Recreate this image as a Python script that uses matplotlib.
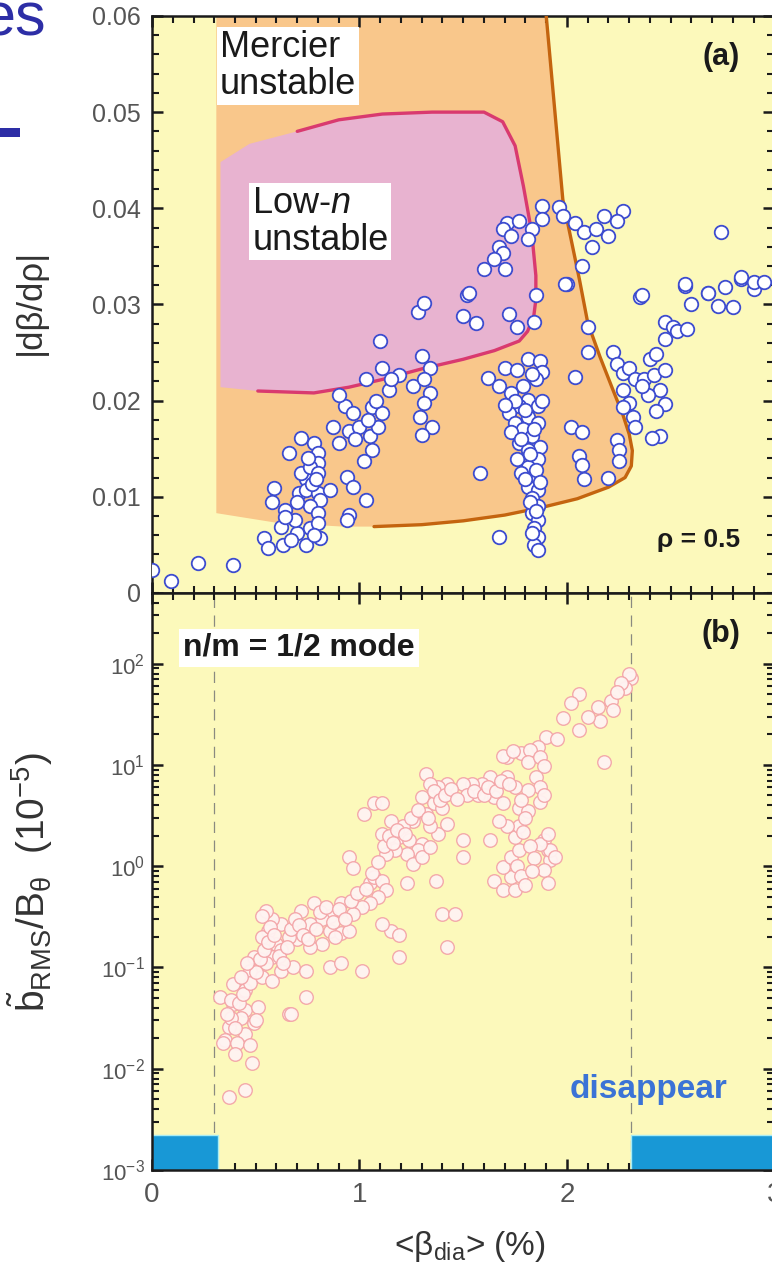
import matplotlib
matplotlib.use("Agg")
import matplotlib.pyplot as plt
from matplotlib.patches import Polygon, Rectangle
from matplotlib.ticker import MultipleLocator, LogLocator, NullFormatter, FixedLocator, FixedFormatter

plt.rcParams['font.family'] = ['Liberation Sans', 'DejaVu Sans']
plt.rcParams['mathtext.fontset'] = 'custom'
plt.rcParams['mathtext.rm'] = 'Liberation Sans'
plt.rcParams['mathtext.it'] = 'Liberation Sans:italic'
plt.rcParams['mathtext.bf'] = 'Liberation Sans:bold'

# ---------------- panel (a): stability boundaries at rho = 0.5 ----------------
mercier_beta = [1.90, 1.98, 2.06, 2.10, 2.16, 2.22, 2.27, 2.30, 2.315, 2.31, 2.28, 2.20,
                2.05, 1.88, 1.70, 1.50, 1.30, 1.07]
mercier_grad = [0.060, 0.0409, 0.0326, 0.0281, 0.0245, 0.0212, 0.0185, 0.0165, 0.0148,
                0.0132, 0.0120, 0.0110, 0.0098, 0.0089, 0.0081, 0.0075, 0.0071, 0.0069]
mercier_left_beta = 0.31
mercier_floor_beta = [0.92, 0.60, 0.31]
mercier_floor_grad = [0.0069, 0.0073, 0.0083]

lown_beta = [0.70, 0.90, 1.11, 1.35, 1.60, 1.69, 1.75, 1.79, 1.83, 1.85, 1.85, 1.84,
             1.81, 1.77, 1.65, 1.50, 1.30, 1.11, 0.95, 0.78, 0.51]
lown_grad = [0.0480, 0.0492, 0.0498, 0.0500, 0.0500, 0.0490, 0.0465, 0.0423, 0.0375,
             0.0330, 0.0305, 0.0288, 0.0272, 0.0262, 0.0252, 0.0243, 0.0233, 0.0222,
             0.0214, 0.0208, 0.0210]
lown_open_beta = [0.33, 0.33, 0.47]
lown_open_grad = [0.0214, 0.0448, 0.0467]

# measured pressure gradient vs. beta
a_beta = [
    0.00, 0.09, 0.22, 0.39,
    0.54, 0.56, 0.63, 0.74, 0.81, 0.62, 0.70, 0.76, 0.59, 0.58, 0.64, 0.71, 0.74, 0.72,
    0.66, 0.72, 0.78, 0.80, 0.80, 0.76, 0.80, 0.74, 0.80, 0.81, 0.76, 0.80, 0.80, 0.86,
    0.69, 0.64, 0.77, 0.79, 0.75, 0.70, 0.78, 0.67,
    0.87, 0.90, 0.93, 0.95, 0.90, 0.97, 1.00, 1.03, 1.06, 1.05, 1.06, 1.02, 1.09, 1.11,
    0.94, 0.97, 1.03, 0.95, 0.94, 1.10, 1.11, 1.14, 1.19, 1.15, 1.04, 0.98, 1.08,
    1.30, 1.34, 1.26, 1.31, 1.34, 1.31, 1.29, 1.35, 1.30, 1.28, 1.31, 1.52, 1.53, 1.50, 1.56,
    1.62, 1.67, 1.70, 1.81, 1.87, 1.88, 1.85, 1.79, 1.73, 1.81, 1.77, 1.86, 1.72, 1.81,
    1.75, 1.86, 1.79, 1.73, 1.83, 1.77, 1.87, 1.81, 1.76, 1.86, 1.81, 1.78, 1.84, 1.81,
    1.86, 1.83, 1.86, 1.83, 1.86, 1.84, 1.86, 1.84, 1.67, 1.58, 1.72, 1.76, 1.84, 1.85,
    2.00, 2.04, 2.10, 2.10, 2.02, 2.07, 2.06, 2.07, 2.08, 2.20, 2.24, 2.25, 2.25,
    1.80, 1.84, 1.78, 1.82, 1.85, 1.80, 1.87, 1.82, 1.85, 1.83, 1.86, 1.75, 1.70, 1.88,
    1.83, 1.76,
    2.22, 2.24, 2.27, 2.30, 2.33, 2.27, 2.30, 2.27, 2.32, 2.33, 2.37, 2.40, 2.43, 2.42,
    2.47, 2.45, 2.47, 2.43, 2.39, 2.36, 2.45, 2.41, 2.47, 2.51, 2.53, 2.58, 2.47, 2.35,
    2.57, 2.60, 2.68, 2.73, 2.80, 2.76, 2.84, 2.90,
    1.88, 1.96, 1.98, 2.04, 2.08, 2.12, 2.18, 2.27, 2.24, 2.14, 2.20, 1.88, 1.83, 1.71,
    1.77, 1.69, 1.73, 1.81, 1.67, 1.69, 1.65, 1.70, 1.60, 2.07, 1.99, 2.36, 2.74, 2.57,
    2.68, 2.84, 2.90, 2.95,
]
a_grad = [
    0.0024, 0.0012, 0.0031, 0.0029,
    0.0057, 0.0047, 0.0050, 0.0050, 0.0057, 0.0069, 0.0062, 0.0068, 0.0109, 0.0095, 0.0086,
    0.0104, 0.0118, 0.0125, 0.0146, 0.0161, 0.0156, 0.0146, 0.0135, 0.0131, 0.0125, 0.0107,
    0.0104, 0.0097, 0.0090, 0.0083, 0.0073, 0.0107, 0.0076, 0.0079, 0.0113, 0.0118, 0.0140,
    0.0095, 0.0060, 0.0055,
    0.0173, 0.0156, 0.0194, 0.0168, 0.0206, 0.0187, 0.0173, 0.0222, 0.0193, 0.0163, 0.0149,
    0.0137, 0.0173, 0.0187, 0.0121, 0.0110, 0.0097, 0.0081, 0.0076, 0.0262, 0.0234, 0.0211,
    0.0227, 0.0222, 0.0180, 0.0160, 0.0200,
    0.0246, 0.0234, 0.0215, 0.0222, 0.0208, 0.0198, 0.0183, 0.0173, 0.0164, 0.0292, 0.0302,
    0.0310, 0.0312, 0.0288, 0.0281,
    0.0224, 0.0215, 0.0234, 0.0243, 0.0241, 0.0230, 0.0222, 0.0215, 0.0208, 0.0201, 0.0194,
    0.0194, 0.0187, 0.0183, 0.0177, 0.0177, 0.0170, 0.0167, 0.0163, 0.0156, 0.0152, 0.0149,
    0.0139, 0.0139, 0.0131, 0.0125, 0.0121, 0.0110, 0.0107, 0.0099, 0.0090, 0.0083, 0.0076,
    0.0068, 0.0058, 0.0050, 0.0058, 0.0125, 0.0290, 0.0277, 0.0282, 0.0310,
    0.0321, 0.0225, 0.0277, 0.0251, 0.0173, 0.0167, 0.0142, 0.0133, 0.0118, 0.0120, 0.0159,
    0.0149, 0.0137,
    0.0190, 0.0170, 0.0160, 0.0145, 0.0128, 0.0118, 0.0115, 0.0095, 0.0085, 0.0062, 0.0045,
    0.0200, 0.0195, 0.0200, 0.0228, 0.0232,
    0.0251, 0.0238, 0.0229, 0.0234, 0.0222, 0.0211, 0.0198, 0.0193, 0.0183, 0.0173, 0.0222,
    0.0243, 0.0248, 0.0227, 0.0232, 0.0211, 0.0196, 0.0189, 0.0206, 0.0215, 0.0163, 0.0161,
    0.0282, 0.0277, 0.0272, 0.0274, 0.0264, 0.0308, 0.0319, 0.0300, 0.0312, 0.0298, 0.0297,
    0.0318, 0.0326, 0.0316,
    0.0402, 0.0401, 0.0392, 0.0385, 0.0375, 0.0360, 0.0392, 0.0397, 0.0387, 0.0378, 0.0371,
    0.0389, 0.0378, 0.0385, 0.0387, 0.0378, 0.0371, 0.0368, 0.0360, 0.0354, 0.0347, 0.0337,
    0.0337, 0.0340, 0.0321, 0.0310, 0.0375, 0.0321, 0.0312, 0.0329, 0.0323, 0.0323,
]

# ---------------- panel (b): n/m = 1/2 mode amplitude ----------------
b_beta = [
    2.31, 2.28, 2.21, 2.15, 2.22, 2.16, 2.06, 2.02, 1.98, 2.06, 1.90, 1.86, 1.78, 1.82,
    1.71, 2.30, 2.26, 2.18, 2.10, 1.95, 2.24,
    1.69, 1.74, 1.81, 1.87, 1.89, 1.85, 1.87, 1.81, 1.75, 1.71, 1.63, 1.59, 1.54, 1.57,
    1.65, 1.69, 1.77, 1.81, 1.87, 1.89, 1.50, 1.52, 1.42, 1.38, 1.32, 1.34, 1.30, 1.36,
    1.40, 1.32, 1.26, 1.21, 1.15, 1.11, 1.19, 1.24, 1.30, 1.28, 1.23, 1.17, 1.13, 1.26,
    1.30, 1.34, 1.38, 1.34, 1.42, 1.07, 1.11, 1.02, 0.95, 0.97, 1.05, 1.07, 1.11, 1.13,
    1.09, 1.05, 1.01, 0.97, 0.91, 0.89, 0.86, 0.82, 0.78, 0.72, 0.76, 0.86, 0.91, 0.95,
    0.88, 0.82, 0.76, 0.70, 0.66, 0.62, 0.58, 0.55, 0.53, 0.56, 0.53, 0.60, 0.62, 0.58,
    0.55, 0.49, 0.47, 0.53, 0.58, 0.62, 0.68, 0.74, 0.86, 0.91, 1.01, 1.19, 1.15, 1.19,
    1.11, 0.74, 0.66, 0.45, 0.39, 0.33, 0.39, 0.45, 0.51, 0.49, 0.43, 0.37, 0.45, 0.35,
    0.41, 0.47, 1.40, 1.46, 1.42, 1.23, 1.37, 1.50, 1.50, 1.63, 1.65, 1.69, 1.75, 1.73,
    1.69, 1.73, 1.77, 1.75, 1.77, 1.71, 1.67, 1.89, 1.91, 1.92, 1.89, 1.91, 1.92, 1.87,
    1.94, 1.91,
    0.38, 0.38, 0.34, 0.40, 0.48, 0.45, 0.37, 0.67, 0.50,
    0.42, 0.44, 0.47, 0.50, 0.52, 0.54, 0.56, 0.57, 0.59, 0.61, 0.63, 0.65, 0.67, 0.69,
    0.71, 0.73, 0.75, 0.79, 0.81, 0.84, 0.87, 0.90, 0.93, 0.96, 0.99, 1.03, 1.06, 1.09,
    1.12, 1.14, 1.16, 1.18, 1.22, 1.25, 1.28, 1.33, 1.36, 1.39, 1.41, 1.44, 1.47, 1.55,
    1.60, 1.62, 1.66, 1.68, 1.72, 1.78, 1.80, 1.79, 1.82, 1.84, 1.76, 1.78, 1.80, 1.83,
    0.40, 0.36, 0.43, 0.46,
]
b_amp = [
    73, 58, 43, 37, 35, 27, 50, 41, 29, 22, 19, 15, 13, 14,
    12, 80, 65, 10.7, 30, 18, 52,
    12.3, 13.8, 10.7, 12, 9.8, 7.6, 6.0, 5.6, 6.0, 7.6, 7.6, 6.5, 6.5, 5.1,
    4.8, 4.2, 3.8, 3.5, 4.3, 5.1, 6.5, 5.1, 6.5, 6.0, 8.1, 6.5, 4.8, 4.2,
    3.8, 3.3, 2.8, 2.5, 2.8, 2.1, 1.95, 1.8, 1.66, 1.45, 1.32, 1.45, 1.32, 1.05,
    1.23, 1.55, 2.1, 2.5, 2.6, 4.2, 4.2, 3.3, 1.23, 0.95, 0.68, 0.78, 0.72, 0.58,
    0.50, 0.43, 0.40, 0.34, 0.43, 0.36, 0.32, 0.30, 0.43, 0.36, 0.27, 0.23, 0.22, 0.23,
    0.20, 0.17, 0.16, 0.19, 0.20, 0.27, 0.30, 0.36, 0.32, 0.23, 0.20, 0.17, 0.15, 0.126,
    0.11, 0.126, 0.093, 0.081, 0.074, 0.093, 0.10, 0.093, 0.10, 0.11, 0.093, 0.126, 0.23, 0.21,
    0.27, 0.051, 0.035, 0.060, 0.069, 0.051, 0.044, 0.038, 0.041, 0.028, 0.032, 0.026, 0.022, 0.019,
    0.018, 0.017, 0.34, 0.34, 0.16, 0.68, 0.72, 1.8, 1.23, 1.8, 0.72, 0.58, 0.58, 0.78,
    0.98, 1.23, 1.45, 1.95, 2.5, 2.5, 2.8, 1.8, 1.45, 1.15, 0.91, 0.68, 1.45, 1.66,
    1.23, 2.1,
    0.048, 0.032, 0.018, 0.014, 0.0114, 0.0062, 0.0052, 0.035, 0.030,
    0.045, 0.055, 0.07, 0.09, 0.12, 0.15, 0.18, 0.25, 0.21, 0.13, 0.11, 0.16, 0.24, 0.30,
    0.26, 0.21, 0.19, 0.24, 0.35, 0.40, 0.28, 0.38, 0.30, 0.45, 0.55, 0.60, 0.85, 1.1,
    1.6, 2.0, 1.7, 2.3, 2.1, 3.0, 3.6, 3.0, 5.5, 4.5, 5.0, 5.8, 4.6, 5.5,
    5.0, 6.0, 5.5, 7.0, 6.5, 4.5, 3.0, 2.2, 1.6, 1.2, 1.0, 0.8, 0.65, 0.9,
    0.025, 0.035, 0.08, 0.11,
]

no_mode_beta_ranges = [(0.0, 0.32), (2.31, 3.0)]
no_mode_level = 2.2e-3
onset_betas = [0.30, 2.31]

# ---------------- figure ----------------
W, H = 772, 1276
fig = plt.figure(figsize=(W / 100, H / 100), dpi=100)
fig.patch.set_facecolor('white')

bg = '#fcf9bb'
ax1 = fig.add_axes([0.1969, 0.5353, 0.8063, 0.4522])
ax2 = fig.add_axes([0.1969, 0.0831, 0.8063, 0.4522], sharex=ax1)

for ax in (ax1, ax2):
    ax.set_facecolor(bg)
    for sp in ax.spines.values():
        sp.set_linewidth(1.8)
        sp.set_color('#1a1a1a')
    ax.tick_params(which='both', direction='in', top=True, right=True, color='#1a1a1a',
                   labelcolor='#555555')
    ax.tick_params(which='major', length=8, width=1.8)
    ax.tick_params(which='minor', length=5, width=1.5)

# panel (a)
ax1.set_xlim(0, 3)
ax1.set_ylim(0, 0.06)
ax1.xaxis.set_major_locator(MultipleLocator(1))
ax1.xaxis.set_minor_locator(MultipleLocator(0.1))
ax1.yaxis.set_major_locator(FixedLocator([0, 0.01, 0.02, 0.03, 0.04, 0.05, 0.06]))
ax1.yaxis.set_major_formatter(FixedFormatter(['0', '0.01', '0.02', '0.03', '0.04', '0.05', '0.06']))
ax1.yaxis.set_minor_locator(MultipleLocator(0.002))
ax1.tick_params(axis='x', labelbottom=False)
ax1.tick_params(axis='y', labelsize=18, pad=8)

merc_poly = ([(mercier_left_beta, 0.06)] + list(zip(mercier_beta, mercier_grad)) +
             list(zip(mercier_floor_beta, mercier_floor_grad)))
ax1.add_patch(Polygon(merc_poly, closed=True, facecolor='#f9c78b', edgecolor='none', zorder=1))
lown_poly = list(zip(lown_beta, lown_grad)) + list(zip(lown_open_beta, lown_open_grad))
ax1.add_patch(Polygon(lown_poly, closed=True, facecolor='#e8b3d0', edgecolor='none', zorder=2))
ax1.plot(mercier_beta, mercier_grad, color='#c4640f', lw=2.4, zorder=3, solid_capstyle='round')
ax1.plot(lown_beta, lown_grad, color='#d93a6f', lw=2.4, zorder=3, solid_capstyle='round')

ax1.scatter(a_beta, a_grad, s=95, facecolor='white', edgecolor='#3d4ccf', linewidth=1.3, zorder=5)

ax1.text(0.109, 0.975, 'Mercier\nunstable', transform=ax1.transAxes, fontsize=26,
         ha='left', va='top', linespacing=1.05, color='#1a1a1a', zorder=4,
         bbox=dict(facecolor='white', edgecolor='none', pad=2))
ax1.text(0.161, 0.705, 'Low-$\\mathit{n}$\nunstable', transform=ax1.transAxes, fontsize=26,
         ha='left', va='top', linespacing=1.05, color='#1a1a1a', zorder=4,
         bbox=dict(facecolor='white', edgecolor='none', pad=2))
ax1.text(0.945, 0.929, '(a)', transform=ax1.transAxes, fontsize=22, fontweight='bold',
         ha='right', va='center', color='#1a1a1a', zorder=6)
ax1.text(0.945, 0.092, 'ρ = 0.5', transform=ax1.transAxes, fontsize=19, fontweight='bold',
         ha='right', va='center', color='#1a1a1a', zorder=6)

# panel (b)
ax2.set_yscale('log')
ax2.set_ylim(1e-3, 5e2)
ax2.yaxis.set_major_locator(LogLocator(base=10, numticks=10))
ax2.yaxis.set_minor_locator(LogLocator(base=10, subs=range(2, 10), numticks=20))
ax2.yaxis.set_minor_formatter(NullFormatter())
ax2.tick_params(axis='y', labelsize=16, pad=5)
ax2.tick_params(axis='x', labelsize=20, pad=9)
ax2.set_xticks([0, 1, 2, 3])
ax2.set_xticklabels(['0', '1', '2', '3'])

for lo, hi in no_mode_beta_ranges:
    ax2.bar(lo, no_mode_level - 1e-3, width=hi - lo, bottom=1e-3, align='edge',
            color='#1898d6', edgecolor='#a8ecf4', linewidth=1.0, zorder=2)
for xb in onset_betas:
    ax2.axvline(xb, color='#8a8a80', lw=0.9, ls=(0, (9, 6)), zorder=1)

ax2.scatter(b_beta, b_amp, s=95, facecolor='#fff3f2', edgecolor='#f3a5a8', linewidth=1.0,
            alpha=0.95, zorder=5)

ax2.text(0.050, 0.905, 'n/m = 1/2 mode', transform=ax2.transAxes, fontsize=23,
         fontweight='bold', ha='left', va='center', color='#1a1a1a', zorder=6,
         bbox=dict(facecolor='white', edgecolor='none', pad=3))
ax2.text(0.945, 0.929, '(b)', transform=ax2.transAxes, fontsize=22, fontweight='bold',
         ha='right', va='center', color='#1a1a1a', zorder=6)
ax2.text(0.925, 0.139, 'disappear', transform=ax2.transAxes, fontsize=24, fontweight='bold',
         ha='right', va='center', color='#3b73d6', zorder=6)

# axis titles
fig.text(30 / W, 1 - 302 / H, '|dβ/dρ|', rotation=90, ha='center', va='center',
         fontsize=25, color='#333333')
fig.text(30 / W, 1 - 882 / H,
         r'$\tilde{\mathrm{b}}_{\rm RMS}$/B$_{\mathrm{\theta}}$  (10$^{-5}$)', rotation=90,
         ha='center', va='center', fontsize=28, color='#333333')
fig.text(470 / W, 1 - 1247 / H, r'<$\mathrm{\beta}_{\rm dia}$> (%)', ha='center', va='center',
         fontsize=24, color='#333333')

# slide title fragment at top-left
fig.text(46 / W, 1 - 35 / H, 'es', ha='right', va='baseline', fontsize=44, color='#2d2ea6')
fig.patches.append(Rectangle((0, 1 - 137 / H), 20 / W, 9 / H, transform=fig.transFigure,
                             facecolor='#2d2ea6', edgecolor='none'))

fig.savefig('out.png', dpi=100, facecolor='white')
